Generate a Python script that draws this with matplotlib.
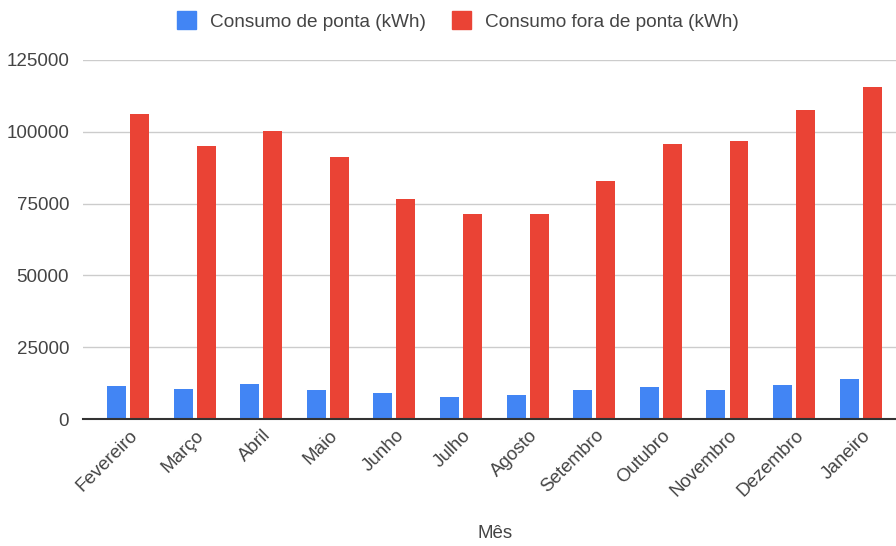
import numpy as np
import matplotlib.pyplot as plt
import matplotlib.transforms as mtransforms
from matplotlib.patches import Patch

plt.rcParams['font.family'] = ['Liberation Sans', 'DejaVu Sans']

# dados
meses = ['Fevereiro', 'Março', 'Abril', 'Maio', 'Junho', 'Julho', 'Agosto',
         'Setembro', 'Outubro', 'Novembro', 'Dezembro', 'Janeiro']
ponta = [11650, 10600, 12200, 10100, 8950, 7800, 8400,
         10100, 11150, 10100, 11750, 13950]
fora_ponta = [106300, 95200, 100200, 91350, 76700, 71300, 71300,
              83000, 95800, 96900, 107500, 115750]
yticks = [0, 25000, 50000, 75000, 100000, 125000]

azul = '#4285F4'
vermelho = '#EA4335'
cor_texto = '#444444'
fs = 13.5

fig = plt.figure(figsize=(8.96, 5.46), dpi=100)
ax = fig.add_axes([83 / 896, 1 - 419 / 546, 1 - 83 / 896, (419 - 60) / 546])

x = np.arange(len(meses))
w = 0.285
ax.bar(x - 0.173, ponta, w, color=azul, zorder=3)
ax.bar(x + 0.173, fora_ponta, w, color=vermelho, zorder=3)

ax.set_xlim(-0.676, 11.53)
ax.set_ylim(0, 125000)
ax.set_yticks(yticks)
ax.set_yticklabels([str(v) for v in yticks])
ax.grid(axis='y', color='#cccccc', linewidth=1, zorder=0)
ax.set_axisbelow(True)

for s in ['top', 'right', 'left']:
    ax.spines[s].set_visible(False)
ax.spines['bottom'].set_color('#333333')
ax.spines['bottom'].set_linewidth(1.5)
ax.spines['bottom'].set_zorder(4)

ax.set_xticks(x)
ax.set_xticklabels(meses, rotation=45, ha='right', va='center',
                   rotation_mode='anchor')
ax.tick_params(axis='x', length=0, pad=10, labelsize=fs, labelcolor=cor_texto)
ax.tick_params(axis='y', length=0, pad=10, labelsize=fs, labelcolor=cor_texto)

# desloca os rótulos do eixo x um pouco para a direita
desloc = mtransforms.ScaledTranslation(7 / 100, 0, fig.dpi_scale_trans)
for lbl in ax.get_xticklabels():
    lbl.set_transform(lbl.get_transform() + desloc)

fig.text(495 / 896, 1 - 534 / 546, 'Mês', fontsize=fs, color=cor_texto,
         ha='center', va='center')

handles = [Patch(color=azul, label='Consumo de ponta (kWh)'),
           Patch(color=vermelho, label='Consumo fora de ponta (kWh)')]
fig.legend(handles=handles, loc='center', bbox_to_anchor=(458 / 896, 1 - 21 / 546),
           ncol=2, frameon=False, fontsize=13.7, labelcolor=cor_texto,
           handlelength=1.0, handleheight=1.0, handletextpad=0.75,
           columnspacing=1.35)

fig.savefig('out.png', dpi=100)
